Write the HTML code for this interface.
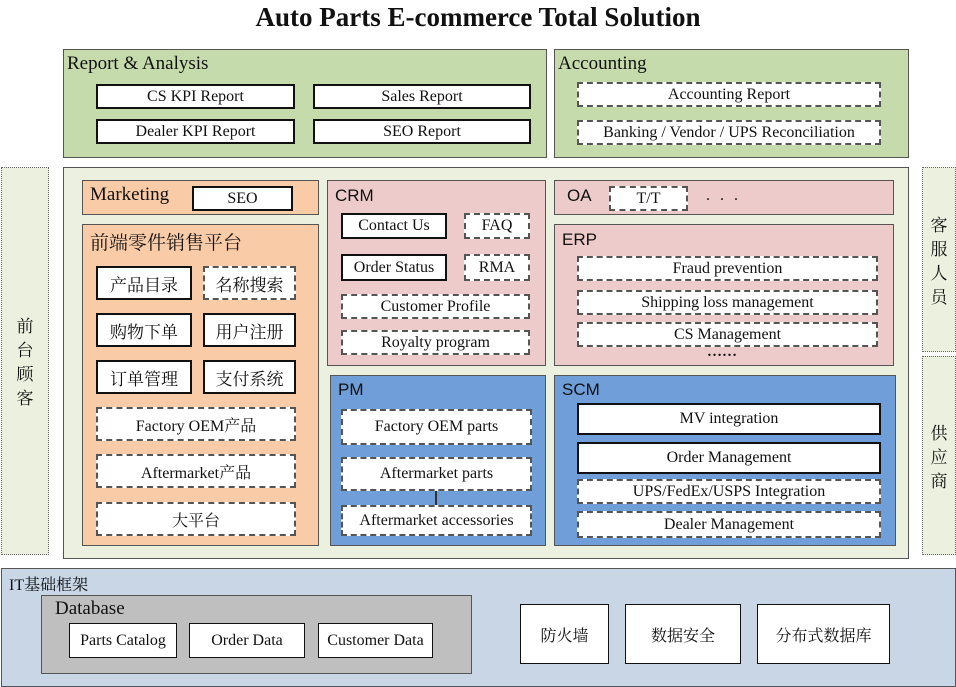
<!DOCTYPE html>
<html><head><meta charset="utf-8"><style>
body{margin:0;width:956px;height:687px;background:#fff;position:relative;overflow:hidden;font-family:"Liberation Serif","Noto Serif CJK SC",serif;color:#111}
div{position:absolute;box-sizing:border-box}
.c{border:1px solid #555}
.b{background:#fff;border:2px solid #111;display:flex;align-items:center;justify-content:center;font-size:16px}
.d{background:#fff;border:2px dashed #555;display:flex;align-items:center;justify-content:center;font-size:16px}
.t{border:none;font-size:19px}
.s{font-family:"Liberation Sans",sans-serif;font-size:17px;border:none}
.cj{font-family:"Liberation Serif","Noto Serif CJK SC",serif}
.g{background:#c6dbab}.p{background:#eccbca}.o{background:#f9cba7}.bl{background:#6f9ed9}.lg{background:#ebf0df}
.v{font-family:"Noto Serif CJK SC",serif;font-size:17px;display:flex;align-items:center;justify-content:center;text-align:center;line-height:24px;border:1.5px dotted #666;background:#ebf0df}
</style></head><body>
<div class="t" style="left:0;top:0;width:956px;text-align:center;font-size:27px;font-weight:bold;line-height:34px">Auto Parts E-commerce Total Solution</div>

<div class="c g" style="left:63px;top:49px;width:484px;height:109px"></div>
<div class="t" style="left:67px;top:53px">Report &amp; Analysis</div>
<div class="b" style="left:96px;top:84px;width:199px;height:25px">CS KPI Report</div>
<div class="b" style="left:313px;top:84px;width:218px;height:25px">Sales Report</div>
<div class="b" style="left:96px;top:119px;width:199px;height:25px">Dealer KPI Report</div>
<div class="b" style="left:313px;top:119px;width:218px;height:25px">SEO Report</div>

<div class="c g" style="left:554px;top:49px;width:355px;height:109px"></div>
<div class="t" style="left:558px;top:53px">Accounting</div>
<div class="d" style="left:577px;top:82px;width:304px;height:25px">Accounting Report</div>
<div class="d" style="left:577px;top:120px;width:304px;height:25px">Banking / Vendor / UPS Reconciliation</div>

<div class="v" style="left:1px;top:167px;width:48px;height:388px">前<br>台<br>顾<br>客</div>
<div class="v" style="left:922px;top:167px;width:34px;height:185px">客<br>服<br>人<br>员</div>
<div class="v" style="left:922px;top:356px;width:34px;height:199px">供<br>应<br>商</div>

<div class="c lg" style="left:63px;top:167px;width:846px;height:392px"></div>

<div class="c o" style="left:82px;top:180px;width:237px;height:35px"></div>
<div class="t" style="left:90px;top:184px">Marketing</div>
<div class="b" style="left:192px;top:186px;width:101px;height:25px">SEO</div>

<div class="c o" style="left:82px;top:224px;width:237px;height:322px"></div>
<div class="t cj" style="left:90px;top:228px;font-size:19px">前端零件销售平台</div>
<div class="b cj" style="left:96px;top:266px;width:96px;height:34px;font-size:17px">产品目录</div>
<div class="d cj" style="left:203px;top:266px;width:93px;height:34px;font-size:17px">名称搜索</div>
<div class="b cj" style="left:96px;top:313px;width:96px;height:34px;font-size:17px">购物下单</div>
<div class="b cj" style="left:203px;top:313px;width:93px;height:34px;font-size:17px">用户注册</div>
<div class="b cj" style="left:96px;top:360px;width:96px;height:34px;font-size:17px">订单管理</div>
<div class="b cj" style="left:203px;top:360px;width:93px;height:34px;font-size:17px">支付系统</div>
<div class="d cj" style="left:96px;top:407px;width:200px;height:34px">Factory OEM产品</div>
<div class="d cj" style="left:96px;top:454px;width:200px;height:34px">Aftermarket产品</div>
<div class="d cj" style="left:96px;top:502px;width:200px;height:34px">大平台</div>

<div class="c p" style="left:327px;top:180px;width:219px;height:186px"></div>
<div class="s" style="left:335px;top:186px">CRM</div>
<div class="b" style="left:341px;top:213px;width:106px;height:26px">Contact Us</div>
<div class="d" style="left:464px;top:213px;width:66px;height:26px">FAQ</div>
<div class="b" style="left:341px;top:254px;width:106px;height:27px">Order Status</div>
<div class="d" style="left:464px;top:254px;width:66px;height:27px">RMA</div>
<div class="d" style="left:341px;top:294px;width:189px;height:25px">Customer Profile</div>
<div class="d" style="left:341px;top:330px;width:189px;height:25px">Royalty program</div>

<div class="c p" style="left:554px;top:180px;width:340px;height:35px"></div>
<div class="s" style="left:567px;top:186px">OA</div>
<div class="d" style="left:609px;top:186px;width:79px;height:25px">T/T</div>
<div class="t" style="left:706px;top:187px;font-size:16px;letter-spacing:3px">. . .</div>

<div class="c p" style="left:554px;top:224px;width:340px;height:142px"></div>
<div class="s" style="left:562px;top:230px">ERP</div>
<div class="d" style="left:577px;top:256px;width:301px;height:25px">Fraud prevention</div>
<div class="d" style="left:577px;top:290px;width:301px;height:25px">Shipping loss management</div>
<div class="d" style="left:577px;top:322px;width:301px;height:25px">CS Management</div>
<div class="t" style="left:707px;top:344px;font-size:15px;font-weight:bold">……</div>

<div class="c bl" style="left:330px;top:375px;width:216px;height:171px"></div>
<div class="s" style="left:338px;top:380px">PM</div>
<div style="left:435px;top:489px;width:1.5px;height:17px;background:#333"></div>
<div class="d" style="left:341px;top:409px;width:191px;height:36px">Factory OEM parts</div>
<div class="d" style="left:341px;top:457px;width:191px;height:34px">Aftermarket parts</div>
<div class="d" style="left:341px;top:505px;width:191px;height:31px">Aftermarket accessories</div>

<div class="c bl" style="left:554px;top:375px;width:342px;height:171px"></div>
<div class="s" style="left:562px;top:380px">SCM</div>
<div class="b" style="left:577px;top:403px;width:304px;height:32px">MV integration</div>
<div class="b" style="left:577px;top:442px;width:304px;height:32px">Order Management</div>
<div class="d" style="left:577px;top:479px;width:304px;height:25px">UPS/FedEx/USPS Integration</div>
<div class="d" style="left:577px;top:511px;width:304px;height:27px">Dealer Management</div>

<div class="c" style="left:1px;top:568px;width:955px;height:119px;background:#c8d6e6"></div>
<div class="t cj" style="left:9px;top:572px;font-size:16px">IT基础框架</div>
<div class="c" style="left:41px;top:595px;width:431px;height:79px;background:#bfbfbf"></div>
<div class="t" style="left:55px;top:598px">Database</div>
<div class="b" style="left:69px;top:623px;width:108px;height:35px;border-width:1px">Parts Catalog</div>
<div class="b" style="left:189px;top:623px;width:116px;height:35px;border-width:1px">Order Data</div>
<div class="b" style="left:318px;top:623px;width:115px;height:35px;border-width:1px">Customer Data</div>
<div class="b cj" style="left:520px;top:604px;width:89px;height:60px;border-width:1px;font-size:16px">防火墙</div>
<div class="b cj" style="left:625px;top:604px;width:116px;height:60px;border-width:1px;font-size:16px">数据安全</div>
<div class="b cj" style="left:757px;top:604px;width:133px;height:60px;border-width:1px;font-size:16px">分布式数据库</div>
</body></html>
